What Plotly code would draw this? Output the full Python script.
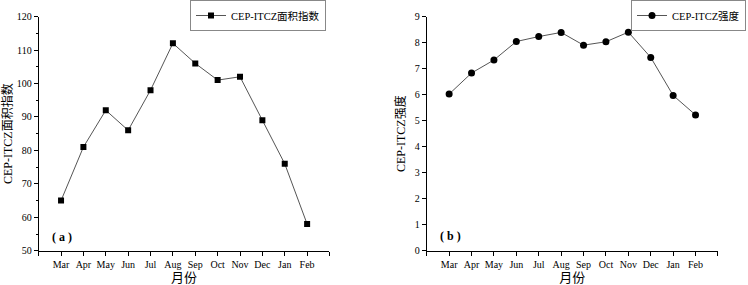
import plotly.graph_objects as go

months = ["Mar", "Apr", "May", "Jun", "Jul", "Aug", "Sep", "Oct", "Nov", "Dec", "Jan", "Feb"]
area_index = [65, 81, 92, 86, 98, 112, 106, 101, 102, 89, 76, 58]
intensity = [6.02, 6.83, 7.33, 8.04, 8.23, 8.39, 7.90, 8.03, 8.40, 7.43, 5.97, 5.22]

FONT = "Liberation Serif, Noto Sans CJK SC, serif"
xpos = list(range(len(months)))
tickvals = [-1] + xpos + [len(months)]
ticktext = [""] + months + [""]

fig = go.Figure()
fig.add_trace(go.Scatter(
    x=xpos, y=area_index, mode="lines+markers", name="CEP-ITCZ面积指数",
    line=dict(color="#555555", width=1),
    marker=dict(symbol="square", size=6, color="black"),
    xaxis="x", yaxis="y", legend="legend"))
fig.add_trace(go.Scatter(
    x=xpos, y=intensity, mode="lines+markers", name="CEP-ITCZ强度",
    line=dict(color="#555555", width=1),
    marker=dict(symbol="circle", size=7, color="black"),
    xaxis="x2", yaxis="y2", legend="legend2"))

common_x = dict(range=[-1, 12], tickvals=tickvals, ticktext=ticktext,
                showline=True, linecolor="black", linewidth=1,
                ticks="outside", ticklen=4, tickcolor="black",
                showgrid=False, zeroline=False,
                tickfont=dict(family=FONT, size=10, color="black"),
                title=dict(text="月份", font=dict(family=FONT, size=13, color="black"), standoff=2),
                automargin=False)
common_y = dict(showline=True, linecolor="black", linewidth=1,
                ticks="outside", ticklen=4, tickcolor="black",
                showgrid=False, zeroline=False,
                tickfont=dict(family=FONT, size=10, color="black"),
                automargin=False)

legend_style = dict(xanchor="right", yanchor="top",
                    bordercolor="#888888", borderwidth=1, bgcolor="white",
                    font=dict(family=FONT, size=10.5, color="black"),
                    tracegroupgap=0, itemwidth=30)

fig.update_layout(
    width=748, height=285,
    margin=dict(l=0, r=0, t=0, b=0),
    paper_bgcolor="white", plot_bgcolor="white",
    showlegend=True,
    xaxis=dict(domain=[0.0517, 0.4405], anchor="y", **common_x),
    yaxis=dict(domain=[0.120, 0.942], anchor="x", range=[50, 120], dtick=10,
               minor=dict(ticks="outside", ticklen=2, dtick=5, tickcolor="black"),
               title=dict(text="CEP-ITCZ面积指数", font=dict(family=FONT, size=12, color="black"), standoff=6),
               **common_y),
    xaxis2=dict(domain=[0.5705, 0.9598], anchor="y2", **common_x),
    yaxis2=dict(domain=[0.120, 0.942], anchor="x2", range=[0, 9], dtick=1,
                title=dict(text="CEP-ITCZ强度", font=dict(family=FONT, size=12, color="black"), standoff=6),
                **common_y),
    legend=dict(x=326 / 748, y=1.0, **legend_style),
    legend2=dict(x=746 / 748, y=1.0, **legend_style),
    annotations=[
        dict(text="<b>( a )</b>", x=-0.5, y=54, xref="x", yref="y", showarrow=False,
             xanchor="left", font=dict(family=FONT, size=12, color="black")),
        dict(text="<b>( b )</b>", x=-0.5, y=0.57, xref="x2", yref="y2", showarrow=False,
             xanchor="left", font=dict(family=FONT, size=12, color="black")),
    ],
)

fig.write_html("out.html", config={"displayModeBar": False},
               post_script="document.body.style.margin='0';document.body.style.padding='0';")
